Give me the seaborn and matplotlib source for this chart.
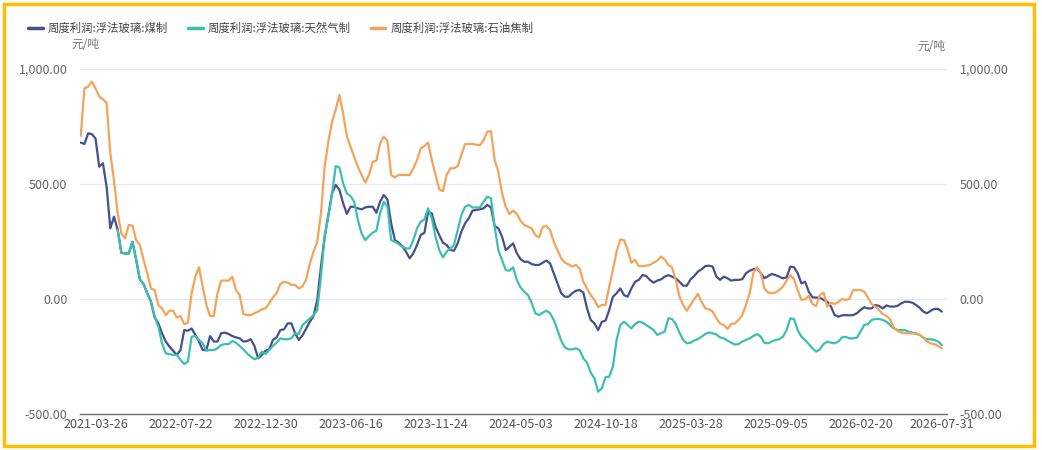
import numpy as np
import pandas as pd
import matplotlib
matplotlib.use("Agg")
import matplotlib.pyplot as plt
from matplotlib.lines import Line2D
from matplotlib.patches import Rectangle
from matplotlib.ticker import FuncFormatter
import seaborn as sns

# weekly profit, yuan per ton (one value per category on the x axis)
coal = [680, 674, 720, 717, 698, 575, 590, 488, 307, 358,
        300, 201, 198, 198, 249, 170, 85, 65, 25, -12,
        -80, -106, -149, -185, -207, -225, -243, -222, -135, -138,
        -128, -156, -185, -222, -222, -161, -185, -185, -149, -146,
        -152, -161, -167, -171, -185, -183, -175, -204, -258, -243,
        -225, -219, -178, -167, -135, -132, -106, -106, -149, -178,
        -158, -128, -99, -74, -4, 141, 271, 365, 459, 496,
        474, 416, 370, 401, 401, 394, 390, 398, 401, 401,
        375, 423, 452, 433, 329, 256, 245, 230, 206, 177,
        199, 235, 278, 288, 380, 372, 314, 278, 245, 235,
        213, 210, 242, 293, 329, 351, 384, 387, 390, 394,
        409, 398, 317, 307, 271, 213, 227, 242, 199, 173,
        162, 162, 152, 148, 148, 158, 167, 155, 112, 68,
        25, 10, 10, 25, 36, 39, 28, -41, -91, -106,
        -135, -99, -94, -48, 10, 25, 46, 17, 10, 46,
        75, 83, 104, 100, 83, 71, 80, 85, 97, 104,
        97, 90, 75, 58, 58, 85, 100, 119, 129, 143,
        145, 141, 97, 83, 97, 90, 80, 83, 83, 86,
        112, 123, 129, 133, 112, 90, 100, 109, 104, 97,
        90, 94, 141, 138, 112, 68, 75, 32, 7, 6,
        6, -4, -12, -33, -70, -77, -71, -70, -71, -70,
        -62, -48, -36, -41, -41, -26, -30, -41, -28, -33,
        -33, -30, -19, -12, -12, -16, -26, -38, -55, -62,
        -51, -43, -43, -55]

gas = [np.nan] * 10 + [
        300, 201, 198, 198, 249, 170, 85, 65, 25, -12,
        -77, -120, -193, -236, -240, -243, -243, -265, -283, -272,
        -164, -161, -178, -193, -225, -222, -222, -214, -200, -196,
        -196, -183, -190, -204, -219, -236, -251, -262, -255, -229,
        -239, -222, -204, -190, -171, -175, -175, -171, -149, -152,
        -113, -99, -84, -70, -48, 97, 271, 358, 459, 578,
        572, 503, 459, 448, 423, 343, 285, 256, 274, 288,
        297, 372, 423, 401, 256, 249, 239, 227, 220, 220,
        256, 307, 336, 346, 394, 351, 271, 213, 181, 206,
        220, 235, 300, 365, 401, 409, 398, 398, 398, 423,
        445, 438, 314, 213, 170, 126, 123, 138, 83, 50,
        32, 17, -16, -62, -70, -59, -51, -62, -91, -135,
        -181, -210, -219, -219, -214, -222, -258, -277, -320, -345,
        -403, -388, -340, -338, -294, -178, -113, -99, -113, -128,
        -109, -99, -103, -113, -123, -135, -156, -149, -142, -84,
        -87, -109, -146, -178, -193, -190, -181, -174, -164, -152,
        -146, -149, -154, -167, -171, -181, -190, -198, -196, -185,
        -178, -171, -161, -152, -164, -190, -193, -185, -178, -175,
        -164, -135, -84, -88, -135, -164, -178, -196, -214, -229,
        -219, -196, -185, -190, -193, -185, -167, -164, -171, -171,
        -168, -142, -113, -109, -91, -87, -87, -91, -99, -113,
        -128, -135, -135, -135, -142, -146, -149, -156, -168, -175,
        -175, -178, -185, -200]

petcoke = [709, 916, 923, 945, 916, 880, 868, 853, 633, 517,
           372, 285, 264, 322, 319, 256, 235, 170, 112, 46,
           39, -26, -41, -70, -51, -51, -80, -74, -110, -103,
           25, 97, 138, 54, -26, -74, -74, 25, 80, 80,
           80, 97, 39, 17, -65, -70, -70, -62, -55, -45,
           -41, -19, 7, 25, 65, 75, 71, 61, 61, 46,
           55, 85, 155, 206, 249, 372, 575, 684, 771, 824,
           887, 807, 709, 662, 619, 575, 539, 506, 539, 597,
           601, 677, 706, 687, 539, 529, 539, 539, 539, 539,
           568, 604, 655, 665, 680, 604, 539, 477, 469, 539,
           568, 568, 578, 626, 674, 674, 674, 671, 669, 691,
           727, 730, 604, 554, 459, 401, 370, 384, 370, 340,
           322, 314, 307, 278, 268, 314, 317, 300, 249, 213,
           177, 158, 151, 141, 148, 133, 75, 46, 17, -4,
           -36, -26, -26, 54, 126, 206, 259, 256, 213, 158,
           170, 143, 143, 145, 148, 158, 167, 184, 172, 148,
           138, 83, 10, -26, -51, -26, -1, 22, -12, -41,
           -45, -55, -84, -106, -113, -130, -109, -106, -91, -70,
           -26, 25, 112, 138, 112, 46, 28, 25, 28, 39,
           54, 80, 104, 86, 39, -4, -1, 13, -22, -30,
           17, 28, -33, -16, -22, -13, 0, -4, 0, 39,
           39, 39, 32, 7, -22, -33, -48, -65, -74, -88,
           -123, -138, -146, -149, -149, -149, -152, -156, -167, -185,
           -193, -197, -204, -214]

tick_labels = ["2021-03-26", "2022-07-22", "2022-12-30", "2023-06-16", "2023-11-24",
               "2024-05-03", "2024-10-18", "2025-03-28", "2025-09-05", "2026-02-20",
               "2026-07-31"]

names = ["周度利润:浮法玻璃:煤制", "周度利润:浮法玻璃:天然气制", "周度利润:浮法玻璃:石油焦制"]
colors = ["#46508F", "#3CBFAE", "#F5A25A"]

n = len(coal)
idx = np.arange(n)
df = pd.concat([
    pd.DataFrame({"idx": idx, "value": coal, "series": names[0]}),
    pd.DataFrame({"idx": idx, "value": gas, "series": names[1]}),
    pd.DataFrame({"idx": idx, "value": petcoke, "series": names[2]}),
], ignore_index=True)

sns.set_theme(style="white")
plt.rcParams["font.family"] = ["Noto Sans CJK SC", "DejaVu Sans"]
plt.rcParams["axes.unicode_minus"] = False

fig = plt.figure(figsize=(10.42, 4.5), dpi=100)
ax = fig.add_axes([80 / 1042, 1 - 414 / 450, 867 / 1042, 345 / 450])

sns.lineplot(data=df, x="idx", y="value", hue="series", palette=colors,
             linewidth=1.6, ax=ax, legend=False, sort=False)

ax.set_ylim(-500, 1000)
ax.set_xlim(-0.2, n + 0.4)
ax.set_yticks([-500, 0, 500, 1000])
ax.yaxis.set_major_formatter(FuncFormatter(lambda v, p: f"{v:,.2f}"))
ax.grid(axis="y", color="#E6E9F2", linewidth=0.9)
ax.set_axisbelow(True)

# category positions of the printed dates (every 23rd week, last one at the end)
tick_pos = [4 + 23 * k for k in range(len(tick_labels) - 1)] + [n - 1]
ax.set_xticks(tick_pos)
ax.set_xticklabels(tick_labels)

for s in ["top", "left", "right"]:
    ax.spines[s].set_visible(False)
ax.spines["bottom"].set_color("#6E7079")
ax.spines["bottom"].set_linewidth(1.0)

ax.tick_params(axis="y", left=False, right=False, length=0, labelleft=True, labelright=True,
               labelsize=9, labelcolor="#666666", pad=9)
ax.tick_params(axis="x", bottom=False, length=0, labelsize=9, labelcolor="#555555", pad=3)
ax.set_xlabel("")
ax.set_ylabel("")

fig.text(85 / 1042, 1 - 45 / 450, "元/吨", fontsize=8.5, color="#777777",
         ha="center", va="center")
fig.text(931 / 1042, 1 - 46 / 450, "元/吨", fontsize=8.5, color="#777777",
         ha="center", va="center")

handles = [Line2D([0], [0], color=c, linewidth=2.5) for c in colors]
fig.legend(handles, names, loc="center left", bbox_to_anchor=(18 / 1042, 1 - 28 / 450),
           ncol=3, frameon=False, fontsize=8.2, handlelength=1.3, handletextpad=0.42,
           columnspacing=1.75, labelcolor="#444444")

fig.patches.append(Rectangle((4 / 1042, 4 / 450), 1030 / 1042, 442 / 450,
                             transform=fig.transFigure, fill=False,
                             edgecolor="#FFC000", linewidth=2.5))

fig.savefig("out.png", dpi=100)
